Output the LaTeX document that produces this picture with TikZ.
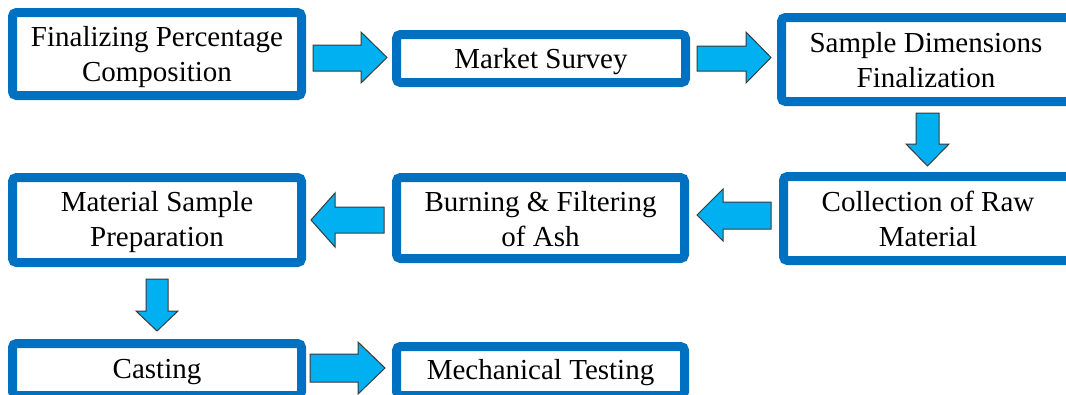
\documentclass[tikz,border=0pt]{standalone}
\usepackage{fontspec}
\setmainfont{Liberation Serif}
\definecolor{boxblue}{HTML}{0070C0}
\definecolor{arrowfill}{HTML}{00B0F0}
\definecolor{arrowline}{HTML}{3A3A3A}
\begin{document}
\begin{tikzpicture}[x=1pt,y=-1pt,
  stepbox/.style={draw=boxblue, line width=9pt, rounded corners=4pt, fill=white, inner sep=0pt},
  steptext/.style={inner sep=0pt, align=center, font=\fontsize{29}{35}\selectfont},
  blockarrow/.style={fill=arrowfill, draw=arrowline, line width=1pt, line join=miter}]
\useasboundingbox (0,0) rectangle (1066,394);
\fill[white] (0,0) rectangle (1066,394);

\node[stepbox, minimum width=289pt, minimum height=83pt] (b1) at (157,54) {};
\node[stepbox, minimum width=289pt, minimum height=48pt] (b2) at (541,58.5) {};
\node[stepbox, minimum width=289pt, minimum height=84pt] (b3) at (926,59.5) {};
\node[stepbox, minimum width=289pt, minimum height=84pt] (b4) at (928,218.5) {};
\node[stepbox, minimum width=288pt, minimum height=81pt] (b5) at (540.5,218) {};
\node[stepbox, minimum width=289pt, minimum height=85pt] (b6) at (157,220) {};
\node[stepbox, minimum width=289pt, minimum height=52pt] (b7) at (157,369.5) {};
\node[stepbox, minimum width=288pt, minimum height=49pt] (b8) at (540.5,371) {};

\node[steptext] (t1) at ([yshift=-3pt]b1.center) {Finalizing Percentage\\Composition};
\node[steptext] (t2) at ([yshift=-3.5pt]b2.center) {Market Survey};
\node[steptext] (t3) at ([yshift=-1pt]b3.center) {Sample Dimensions\\Finalization};
\node[steptext] (t4) at (b4.center) {Collection of Raw\\Material};
\node[steptext] (t5) at ([yshift=-1pt]b5.center) {Burning \& Filtering\\of Ash};
\node[steptext] (t6) at ([yshift=-2pt]b6.center) {Material Sample\\Preparation};
\node[steptext] (t7) at ([yshift=-3pt]b7.center) {Casting};
\node[steptext] (t8) at ([yshift=-2pt]b8.center) {Mechanical Testing};

% right arrows
\draw[blockarrow] (313,45) -- (361,45) -- (361,32) -- (387,57.5) -- (361,83) -- (361,71) -- (313,71) -- cycle;
\draw[blockarrow] (697,46) -- (746,46) -- (746,32) -- (771,57.5) -- (746,83) -- (746,71) -- (697,71) -- cycle;
% down arrow b3 -> b4
\draw[blockarrow] (916,113) -- (939,113) -- (939,144) -- (949,144) -- (927.5,166) -- (906,144) -- (916,144) -- cycle;
% left arrows
\draw[blockarrow] (771,202) -- (723,202) -- (723,189) -- (697,215) -- (723,241) -- (723,229) -- (771,229) -- cycle;
\draw[blockarrow] (384,207) -- (335,207) -- (335,193) -- (311,220) -- (335,247) -- (335,233) -- (384,233) -- cycle;
% down arrow b6 -> b7
\draw[blockarrow] (146,279) -- (168,279) -- (168,311) -- (178,311) -- (157,331) -- (136,311) -- (146,311) -- cycle;
% right arrow b7 -> b8
\draw[blockarrow] (310,354) -- (358,354) -- (358,342) -- (385,368) -- (358,394) -- (358,382) -- (310,382) -- cycle;
\end{tikzpicture}
\end{document}
